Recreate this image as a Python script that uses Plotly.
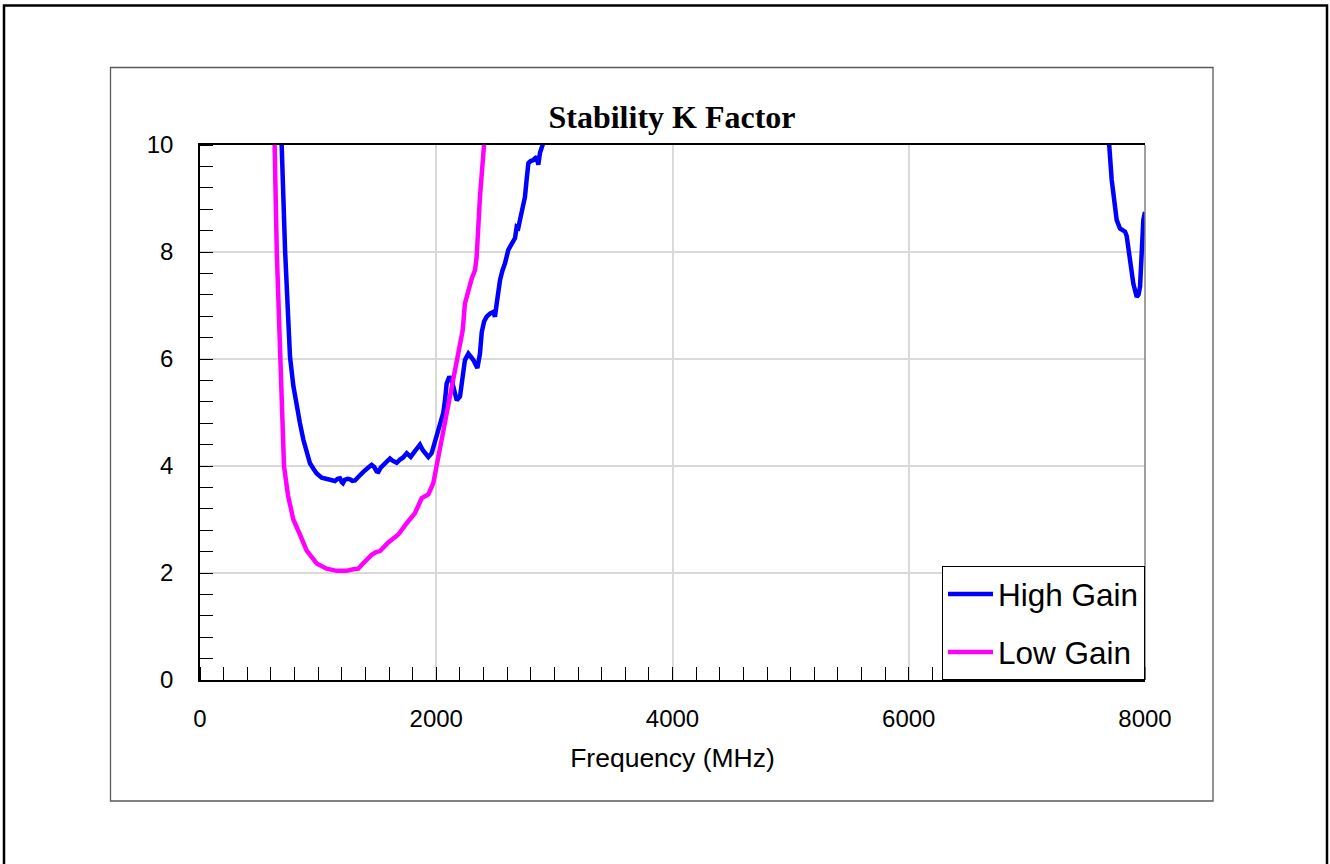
import plotly.graph_objects as go

# ---------------- data ----------------
low_gain_freq = [600, 630, 650, 677, 711, 745, 790, 846, 903, 988, 1072, 1157, 1240,
                 1298, 1340, 1368, 1410, 1453, 1490, 1524, 1594, 1679, 1750, 1820,
                 1877, 1933, 1975, 2018, 2060, 2100, 2150, 2200, 2224, 2243, 2272,
                 2300, 2328, 2342, 2370, 2413, 2440]
low_gain_k = [11.5, 10.2, 8.0, 6.0, 4.0, 3.45, 3.0, 2.72, 2.42, 2.18, 2.08, 2.04, 2.04,
              2.07, 2.08, 2.15, 2.25, 2.34, 2.39, 2.41, 2.57, 2.72, 2.93, 3.12,
              3.40, 3.47, 3.68, 4.17, 4.70, 5.10, 5.65, 6.2, 6.54, 7.04, 7.32,
              7.5, 7.66, 7.91, 9.03, 10.03, 11.0]

high_gain_freq = [650, 691, 720, 762, 790, 818, 846, 875, 903, 931, 960, 988, 1030, 1072,
                  1110, 1143, 1165, 1185, 1200, 1210, 1225, 1250, 1270, 1290, 1312,
                  1340, 1360, 1383, 1410, 1430, 1453, 1475, 1495, 1510, 1530, 1566,
                  1590, 1608, 1630, 1650, 1665, 1693, 1720, 1750, 1770, 1784, 1810,
                  1840, 1862, 1885, 1910, 1933, 1961, 1989, 2004, 2025, 2046, 2060,
                  2075, 2088, 2111, 2130, 2145, 2160, 2173, 2201, 2220, 2243, 2272,
                  2295, 2314, 2348, 2360, 2370, 2385, 2405, 2427, 2455, 2483, 2497,
                  2512, 2525, 2540, 2560, 2582, 2610, 2638, 2667, 2681, 2695, 2709,
                  2730, 2751, 2765, 2780, 2800, 2822, 2850, 2864, 2878, 2906, 2950,
                  3050, 7600, 7696, 7718, 7740, 7760, 7788, 7831, 7845, 7859, 7880,
                  7901, 7930, 7945, 7958, 7972, 7986, 8000]
high_gain_k = [12.0, 10.03, 8.04, 6.04, 5.5, 5.1, 4.8, 4.49, 4.24, 4.05, 3.95, 3.86, 3.78, 3.75,
               3.73, 3.72, 3.76, 3.77, 3.70, 3.68, 3.74, 3.76, 3.75, 3.72, 3.73,
               3.78, 3.84, 3.89, 3.93, 3.98, 4.02, 3.98, 3.90, 3.89, 3.97, 4.05,
               4.10, 4.14, 4.10, 4.07, 4.06, 4.12, 4.16, 4.24, 4.20, 4.17, 4.25,
               4.32, 4.40, 4.30, 4.22, 4.17, 4.24, 4.45, 4.55, 4.72, 4.92, 5.0,
               5.25, 5.54, 5.67, 5.60, 5.48, 5.30, 5.23, 5.30, 5.60, 5.98, 6.10,
               6.05, 5.98, 5.83, 5.95, 6.10, 6.50, 6.70, 6.79, 6.85, 6.88, 6.79,
               7.04, 7.30, 7.48, 7.65, 7.79, 8.04, 8.16, 8.26, 8.47, 8.45, 8.60,
               8.80, 9.03, 9.35, 9.66, 9.70, 9.72, 9.78, 9.63, 9.85, 10.04, 10.6,
               11.5, 12.0, 10.03, 9.35, 8.9, 8.6, 8.44, 8.38, 8.3, 8.1, 7.75,
               7.41, 7.16, 7.20, 7.35, 7.9, 8.6, 8.75]

x_tick_vals = [0, 2000, 4000, 6000, 8000]
y_tick_vals = [0, 2, 4, 6, 8, 10]

# ---------------- layout helpers (pixel geometry) ----------------
W, H = 1330, 864
PL, PR, PT, PB = 200, 1145, 145, 680


def px_x(p):
    return (p - PL) / (PR - PL)


def px_y(p):
    return (PB - p) / (PB - PT)


fig = go.Figure()
fig.add_trace(go.Scatter(x=high_gain_freq, y=high_gain_k, mode="lines", name="High Gain",
                         legendgroup="hg", line=dict(color="#0000ff", width=4.5)))
fig.add_trace(go.Scatter(x=low_gain_freq, y=low_gain_k, mode="lines", name="Low Gain",
                         legendgroup="lg", line=dict(color="#ff00ff", width=4.5)))

font_family = "Liberation Sans, Arial, sans-serif"

fig.update_layout(
    width=W, height=H,
    margin=dict(l=PL, r=W - PR, t=PT, b=H - PB, pad=0),
    paper_bgcolor="white", plot_bgcolor="white",
    font=dict(family=font_family, color="black", size=24),
    title=dict(text="<b>Stability K Factor</b>", x=px_x(672), xref="paper",
               y=1 - 117 / H, yref="container", xanchor="center", yanchor="middle",
               font=dict(family="Liberation Serif, Times New Roman, serif", size=32, color="black")),
    showlegend=True,
    legend=dict(x=1, xanchor="right", y=0, yanchor="bottom",
                bordercolor="black", borderwidth=1, bgcolor="white",
                font=dict(family=font_family, size=31.5, color="black"),
                tracegroupgap=14, traceorder="grouped", itemwidth=45),
)

fig.update_xaxes(
    range=[0, 8000], tickvals=x_tick_vals, ticks="", showgrid=True,
    gridcolor="#d9d9d9", gridwidth=1.5, zeroline=False,
    showline=True, linecolor="black", linewidth=1.5, mirror=True,
    tickfont=dict(size=24), ticklabelstandoff=16,
    minor=dict(dtick=200, ticks="inside", ticklen=13, tickcolor="black", tickwidth=1.3,
               showgrid=False),
    title=dict(text="Frequency (MHz)", font=dict(size=26.5), standoff=18),
)
fig.update_yaxes(
    range=[0, 10], tickvals=y_tick_vals, ticks="", showgrid=True,
    gridcolor="#d9d9d9", gridwidth=1.5, zeroline=False,
    showline=True, linecolor="black", linewidth=1.5, mirror=False,
    tickfont=dict(size=24), ticklabelstandoff=20,
    minor=dict(dtick=0.4, ticks="inside", ticklen=13, tickcolor="black", tickwidth=1.3,
               showgrid=False),
)

# frames
fig.add_shape(type="rect", xref="paper", yref="paper",
              x0=px_x(4), x1=px_x(1327), y0=px_y(880), y1=px_y(5.5),
              line=dict(color="black", width=2.5), fillcolor="rgba(0,0,0,0)", layer="below")
fig.add_shape(type="rect", xref="paper", yref="paper",
              x0=px_x(110.5), x1=px_x(1213), y0=px_y(801), y1=px_y(67.5),
              line=dict(color="#5a5a5a", width=1.3), fillcolor="rgba(0,0,0,0)", layer="below")
fig.add_shape(type="line", xref="paper", yref="paper",
              x0=1, x1=1, y0=0, y1=1, line=dict(color="#808080", width=1.5), layer="above")

fig.write_html("out.html")
